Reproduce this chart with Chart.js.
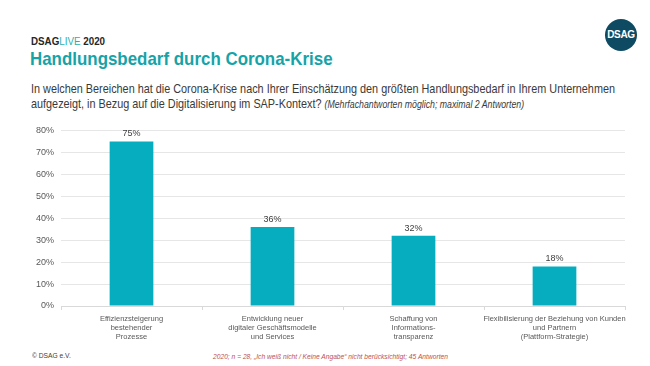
<!DOCTYPE html>
<html>
<head>
<meta charset="utf-8">
<script src="https://cdn.jsdelivr.net/npm/chart.js@4"></script>
<style>
  body { margin: 0; width: 650px; height: 366px; background: #fff; font-family: "Liberation Sans", Arial, sans-serif; position: relative; overflow: hidden; }
  .txt { position: absolute; white-space: nowrap; transform: scaleX(0.89); transform-origin: left top; }
  .brand { left: 31px; top: 35px; font-size: 11px; font-weight: bold; color: #262626; }
  .brand span { color: #1fb1b3; font-weight: normal; }
  h1 { left: 30px; top: 48px; margin: 0; font-size: 19px; font-weight: bold; color: #16a3a8; }
  .question { left: 31px; top: 82px; font-size: 12.4px; line-height: 15px; color: #3a3a3a; transform: scaleX(0.875); }
  .question i { font-size: 10px; }
  .logo { position: absolute; left: 605px; top: 19px; width: 32px; height: 32px; border-radius: 50%; background: #0e4b63; color: #fff; font-size: 10px; font-weight: bold; text-align: center; line-height: 32px; letter-spacing: -0.3px; }
  .copy { left: 32px; top: 351px; font-size: 7.5px; color: #404040; }
  .note { left: 213px; top: 352px; font-size: 7.5px; font-style: italic; color: #c0504d; }
  #wrap { position: absolute; left: 0; top: 118px; width: 650px; height: 233px; }
</style>
</head>
<body>
<div class="txt brand">DSAG<span>LIVE</span> 2020</div>
<h1 class="txt">Handlungsbedarf durch Corona-Krise</h1>
<div class="txt question">In welchen Bereichen hat die Corona-Krise nach Ihrer Einschätzung den größten Handlungsbedarf in Ihrem Unternehmen<br>aufgezeigt, in Bezug auf die Digitalisierung im SAP-Kontext? <i>(Mehrfachantworten möglich; maximal 2 Antworten)</i></div>
<div class="logo">DSAG</div>
<div id="wrap"><canvas id="chart"></canvas></div>
<div class="txt copy">© DSAG e.V.</div>
<div class="txt note">2020; n = 28, „Ich weiß nicht / Keine Angabe“ nicht berücksichtigt; 45 Antworten</div>
<script>
const categories = [
  ['Effizienzsteigerung', 'bestehender', 'Prozesse'],
  ['Entwicklung neuer', 'digitaler Geschäftsmodelle', 'und Services'],
  ['Schaffung von', 'Informations-', 'transparenz'],
  ['Flexibilisierung der Beziehung von Kunden', 'und Partnern', '(Plattform-Strategie)']
];
const values = [75, 36, 32, 18];
const yTicks = [0, 10, 20, 30, 40, 50, 60, 70, 80];

// Werte über den Balken
const valueLabels = {
  id: 'valueLabels',
  afterDatasetsDraw(chart) {
    const ctx = chart.ctx;
    const meta = chart.getDatasetMeta(0);
    ctx.save();
    ctx.font = '9px "Liberation Sans", Arial, sans-serif';
    ctx.fillStyle = '#404040';
    ctx.textAlign = 'center';
    ctx.textBaseline = 'bottom';
    meta.data.forEach((bar, i) => {
      ctx.fillText(values[i] + '%', bar.x, bar.y - 3);
    });
    ctx.restore();
  }
};

new Chart(document.getElementById('chart'), {
  type: 'bar',
  data: {
    labels: categories,
    datasets: [{
      data: values,
      backgroundColor: '#05adbf',
      categoryPercentage: 1,
      barPercentage: 0.31
    }]
  },
  options: {
    responsive: true,
    maintainAspectRatio: false,
    animation: false,
    layout: { padding: { top: 12, right: 25, left: 0, bottom: 0 } },
    plugins: { legend: { display: false }, tooltip: { enabled: false } },
    scales: {
      y: {
        min: 0, max: 80,
        afterFit: s => { s.width = 61; },
        afterBuildTicks: s => { s.ticks = yTicks.map(v => ({ value: v })); },
        ticks: { callback: v => v + '%', color: '#595959', font: { size: 9, family: '"Liberation Sans", Arial' }, padding: 7 },
        grid: { color: '#e6e6e6', drawTicks: false },
        border: { display: false }
      },
      x: {
        afterFit: s => { s.height = 45; },
        ticks: { color: '#595959', font: { size: 7.5, family: '"Liberation Sans", Arial' }, maxRotation: 0, autoSkip: false, padding: 4 },
        grid: { drawOnChartArea: false, color: '#d9d9d9', tickLength: 4, offset: true },
        border: { color: '#d9d9d9' }
      }
    }
  },
  plugins: [valueLabels]
});
</script>
</body>
</html>
